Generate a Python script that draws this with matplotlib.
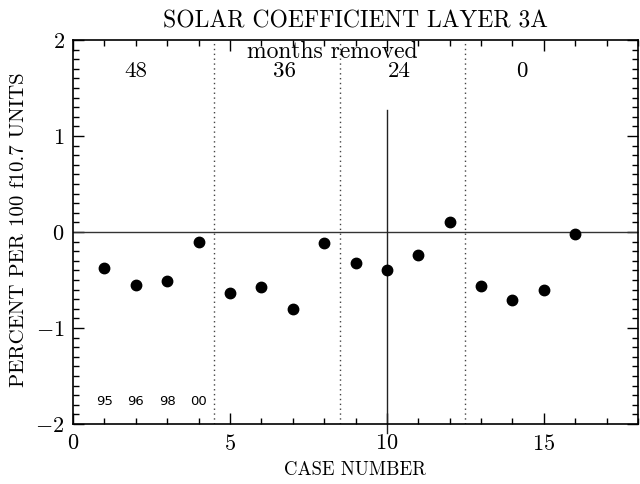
import matplotlib
matplotlib.use("Agg")
import matplotlib.pyplot as plt
from matplotlib.ticker import MultipleLocator

case = [1, 2, 3, 4, 5, 6, 7, 8, 9, 10, 11, 12, 13, 14, 15, 16]
coef = [-0.37, -0.55, -0.51, -0.10, -0.64, -0.57, -0.80, -0.11,
        -0.32, -0.40, -0.24, 0.10, -0.56, -0.71, -0.60, -0.02]
group_bounds = [4.5, 8.5, 12.5]
group_labels = ["48", "36", "24", "0"]
group_label_x = [2.0, 6.75, 10.4, 14.3]
year_labels = ["95", "96", "98", "00"]
year_x = [1, 2, 3, 4]

plt.rcParams['font.family'] = ['cmr10', 'DejaVu Serif']
plt.rcParams['axes.unicode_minus'] = False
plt.rcParams['axes.formatter.use_mathtext'] = True
fig = plt.figure(figsize=(6.4, 4.84), dpi=100)
ax = fig.add_axes([73/640, 1-424/484, 565/640, 384/484])

ax.plot(case, coef, 'o', color='black', markersize=7.5, zorder=3)
ax.axhline(0, color='#333333', lw=1.0)
for b in group_bounds:
    ax.axvline(b, color='#444444', lw=1.0, ls=(0, (1, 2.5)))
ax.plot([10, 10], [-2.09, 1.27], color='#222222', lw=1.0, clip_on=False)

ax.text(8.25, 1.81, "months removed", ha='center', va='baseline', fontsize=17)
for x, t in zip(group_label_x, group_labels):
    ax.text(x, 1.615, t, ha='center', va='baseline', fontsize=16.5)
for x, t in zip(year_x, year_labels):
    ax.text(x, -1.77, t, ha='center', va='center', fontsize=9.5,
            family='DejaVu Sans')

ax.set_xlim(0, 18)
ax.set_ylim(-2, 2)
ax.xaxis.set_major_locator(MultipleLocator(5))
ax.xaxis.set_minor_locator(MultipleLocator(1))
ax.yaxis.set_major_locator(MultipleLocator(1))
ax.yaxis.set_minor_locator(MultipleLocator(0.1))
ax.tick_params(which='both', direction='in', top=True, right=True,
               labelsize=16, width=1)
ax.tick_params(which='major', length=8)
ax.tick_params(which='minor', length=4)
ax.tick_params(axis='x', pad=7)
ax.tick_params(axis='y', pad=6)
for s in ax.spines.values():
    s.set_linewidth(1.2)

ax.set_title("SOLAR COEFFICIENT LAYER 3A", fontsize=17, pad=9)
ax.set_xlabel("CASE NUMBER", fontsize=13.5, labelpad=5)
fig.text(19/640, 1-230/484, "PERCENT PER 100 f10.7 UNITS", rotation=90,
         ha='center', va='center', fontsize=15)

fig.savefig("out.png", dpi=100)
